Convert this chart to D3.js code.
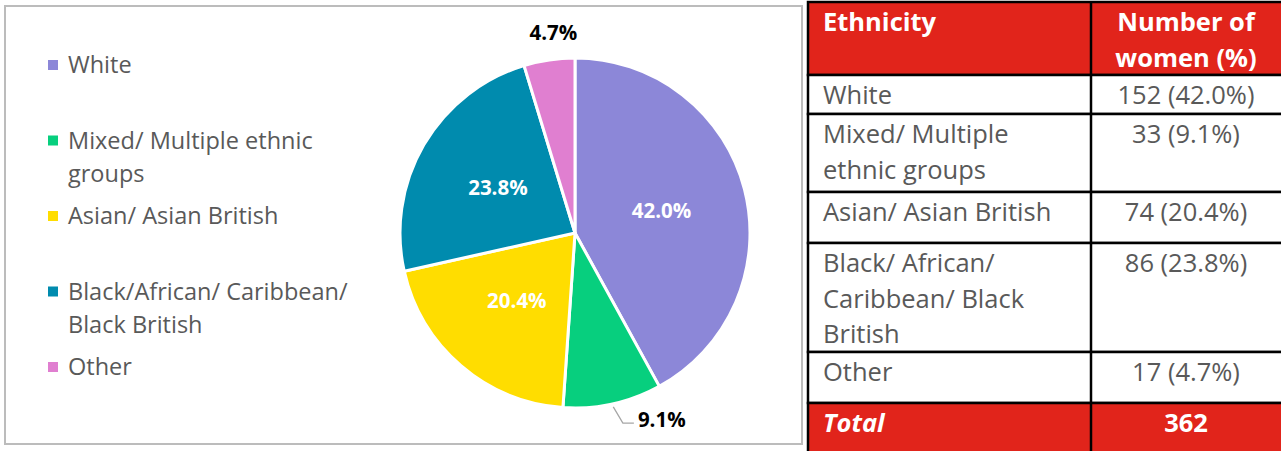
<!DOCTYPE html>
<html>
<head>
	<script src="https://cdn.jsdelivr.net/npm/d3@7"></script>
	<style>
		html, body {
			padding: 0;
			margin: 0;
			background: #ffffff;
		}
		text {
			font-family: "Open Sans", sans-serif;
		}
	</style>
</head>
<body>
	<script>
		var width = 1281,
			height = 451;

		// data
		var legendLabels = [
			["White"],
			["Mixed/ Multiple ethnic", "groups"],
			["Asian/ Asian British"],
			["Black/African/ Caribbean/", "Black British"],
			["Other"]
		];
		var tableLabels = [
			["White"],
			["Mixed/ Multiple", "ethnic groups"],
			["Asian/ Asian British"],
			["Black/ African/", "Caribbean/ Black", "British"],
			["Other"]
		];
		var counts = [152, 33, 74, 86, 17];
		var percents = [42.0, 9.1, 20.4, 23.8, 4.7];
		var total = 362;
		var headers = [["Ethnicity"], ["Number of", "women (%)"]];
		var colors = ["#8c87d8", "#07cf7e", "#ffdd00", "#008bae", "#e07fd0"];

		var svg = d3.select("body").append("svg")
			.attr("width", width)
			.attr("height", height);

		//////// CHART FRAME ////////
		svg.append("rect")
			.attr("x", 5)
			.attr("y", 6)
			.attr("width", 797)
			.attr("height", 438)
			.attr("fill", "#fff")
			.attr("stroke", "#bcbcbc")
			.attr("stroke-width", 2);

		//////// LEGEND ////////
		var legend = svg.append("g");
		var legendY = d3.scaleLinear().domain([0, 4]).range([65, 367]);

		var item = legend.selectAll("g")
			.data(legendLabels)
			.enter().append("g")
			.attr("transform", function(d, i) { return "translate(48," + legendY(i) + ")"; });

		item.append("rect")
			.attr("x", 0)
			.attr("y", -5)
			.attr("width", 10)
			.attr("height", 10)
			.attr("fill", function(d, i) { return colors[i]; });

		item.append("text")
			.attr("x", 20)
			.attr("y", 0)
			.attr("fill", "#595959")
			.style("font-size", "23.5px")
			.selectAll("tspan")
			.data(function(d) { return d; })
			.enter().append("tspan")
			.attr("x", 20)
			.attr("dy", function(d, i) { return i == 0 ? "0.35em" : 33; })
			.text(function(d) { return d; });

		//////// PIE ////////
		var cx = 575, cy = 233, radius = 175;
		var pie = d3.pie().sort(null).value(function(d) { return d; });
		var arcs = pie(percents);
		var arc = d3.arc().innerRadius(0).outerRadius(radius);
		var inner = d3.arc().innerRadius(radius * 0.51).outerRadius(radius * 0.51);

		var g = svg.append("g").attr("transform", "translate(" + cx + "," + cy + ")");

		g.selectAll("path")
			.data(arcs)
			.enter().append("path")
			.attr("d", arc)
			.attr("fill", function(d, i) { return colors[i]; })
			.attr("stroke", "#fff")
			.attr("stroke-width", 3)
			.attr("stroke-linejoin", "round");

		function polar(a, r) {
			return [Math.sin(a) * r, -Math.cos(a) * r];
		}
		function mid(d) { return (d.startAngle + d.endAngle) / 2; }

		// labels inside the big slices, outside the two small ones
		arcs.forEach(function(d, i) {
			var label = d3.format(".1f")(percents[i]) + "%";
			if (percents[i] > 15) {
				var c = inner.centroid(d);
				g.append("text")
					.attr("x", c[0])
					.attr("y", c[1])
					.attr("dy", "0.35em")
					.attr("text-anchor", "middle")
					.attr("fill", "#fff")
					.style("font-size", "20.5px")
					.style("font-weight", "bold")
					.text(label);
			} else if (i == 1) {
				// leader line bends a little outward, then runs flat to the label
				var p1 = polar(mid(d), radius + 3),
					p2 = polar(mid(d) - 0.03, radius + 21),
					p3 = [p2[0] + 11, p2[1]];
				g.append("polyline")
					.attr("points", [p1, p2, p3].map(function(p) { return p.join(","); }).join(" "))
					.attr("fill", "none")
					.attr("stroke", "#a6a6a6")
					.attr("stroke-width", 1.3);
				g.append("text")
					.attr("x", p3[0] + 4)
					.attr("y", p3[1] - 3)
					.attr("dy", "0.35em")
					.attr("fill", "#000")
					.style("font-size", "20.5px")
					.style("font-weight", "bold")
					.text(label);
			} else {
				var p = polar(mid(d), radius + 27);
				g.append("text")
					.attr("x", p[0] + 8)
					.attr("y", p[1])
					.attr("dy", "0.35em")
					.attr("text-anchor", "middle")
					.attr("fill", "#000")
					.style("font-size", "20.5px")
					.style("font-weight", "bold")
					.text(label);
			}
		});

		//////// TABLE ////////
		var tx0 = 808, tx1 = 1091, tx2 = 1290;
		var rowHeights = [73, 39, 78, 51, 109, 51, 52];
		var rowTops = [2];
		rowHeights.forEach(function(h, i) { rowTops.push(rowTops[i] + h); });

		var rows = [];
		rows.push({ left: headers[0], right: headers[1], fill: "#e1241b", head: true });
		tableLabels.forEach(function(l, i) {
			rows.push({ left: l, right: [counts[i] + " (" + d3.format(".1f")(percents[i]) + "%)"], fill: "#fff", head: false });
		});
		rows.push({ left: ["Total"], right: [String(total)], fill: "#e1241b", head: true, italic: true });

		var table = svg.append("g");

		var row = table.selectAll("g")
			.data(rows)
			.enter().append("g")
			.attr("transform", function(d, i) { return "translate(0," + rowTops[i] + ")"; });

		row.append("rect")
			.attr("x", tx0)
			.attr("width", tx2 - tx0)
			.attr("height", function(d, i) { return rowHeights[i]; })
			.attr("fill", function(d) { return d.fill; })
			.attr("stroke", "#000")
			.attr("stroke-width", 2.5);

		row.append("line")
			.attr("x1", tx1).attr("x2", tx1)
			.attr("y1", 0)
			.attr("y2", function(d, i) { return rowHeights[i]; })
			.attr("stroke", "#000")
			.attr("stroke-width", 2.5);

		function cellText(sel, x, anchor, key) {
			sel.append("text")
				.attr("text-anchor", anchor)
				.attr("fill", function(d) { return d.head ? "#fff" : "#595959"; })
				.style("font-size", "25.5px")
				.style("font-weight", function(d) { return d.head ? "bold" : "normal"; })
				.style("font-style", function(d) { return d.italic && key == "left" ? "italic" : "normal"; })
				.selectAll("tspan")
				.data(function(d) { return d[key]; })
				.enter().append("tspan")
				.attr("x", x)
				.attr("y", function(d, i) { return 29 + i * 35.5; })
				.text(function(d) { return d; });
		}
		cellText(row, tx0 + 15, "start", "left");
		cellText(row, (tx1 + 1281) / 2, "middle", "right");
	</script>
</body>
</html>
